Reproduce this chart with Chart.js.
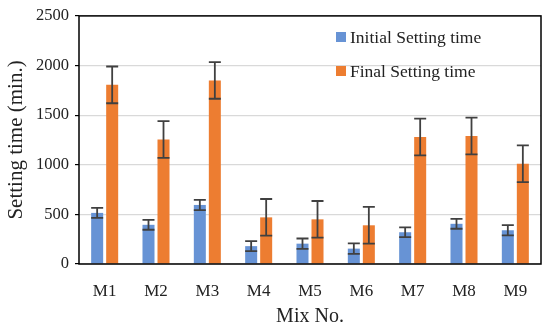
<!DOCTYPE html>
<html>
<head>
<meta charset="utf-8">
<script src="https://cdn.jsdelivr.net/npm/chart.js@4"></script>
<style>
  html, body { margin: 0; padding: 0; background: #fff; }
  #wrap { width: 550px; height: 329px; }
</style>
</head>
<body>
<div id="wrap"><canvas id="setChart" width="550" height="329"></canvas></div>
<script>
// mixes and measured setting times (min.)
const mixes = ['M1', 'M2', 'M3', 'M4', 'M5', 'M6', 'M7', 'M8', 'M9'];
const initialTime = [515, 395, 595, 180, 205, 155, 320, 405, 340];
const finalTime = [1805, 1255, 1850, 470, 450, 390, 1280, 1290, 1010];
const initialErr = [50, 50, 52, 50, 52, 52, 50, 50, 52];
const finalErr = [185, 185, 185, 185, 185, 185, 185, 185, 185];
const yTicks = [0, 500, 1000, 1500, 2000, 2500];

const FONT = 'Liberation Serif';

// error bars, drawn from the scales
const errorBars = {
  id: 'errorBars',
  afterDatasetsDraw(chart) {
    const ctx = chart.ctx;
    const y = chart.scales.y;
    const errs = [initialErr, finalErr];
    ctx.save();
    ctx.strokeStyle = '#404040';
    ctx.lineWidth = 1.8;
    chart.data.datasets.forEach((ds, i) => {
      chart.getDatasetMeta(i).data.forEach((bar, j) => {
        const v = ds.data[j], e = errs[i][j];
        const top = y.getPixelForValue(v + e);
        const bot = y.getPixelForValue(v - e);
        const half = bar.width / 2;
        ctx.beginPath();
        ctx.moveTo(bar.x, top); ctx.lineTo(bar.x, bot);
        ctx.moveTo(bar.x - half, top); ctx.lineTo(bar.x + half, top);
        ctx.moveTo(bar.x - half, bot); ctx.lineTo(bar.x + half, bot);
        ctx.stroke();
      });
    });
    ctx.restore();
  }
};

// black box round the plot + legend inside it
const frameAndLegend = {
  id: 'frameAndLegend',
  afterDraw(chart) {
    const { ctx, chartArea: a } = chart;
    ctx.save();
    ctx.strokeStyle = '#000';
    ctx.lineWidth = 1.5;
    ctx.strokeRect(a.left, a.top, a.right - a.left, a.bottom - a.top);

    ctx.font = '17.5px "' + FONT + '"';
    ctx.textBaseline = 'middle';
    chart.data.datasets.forEach((ds, i) => {
      const ly = 37 + i * 34;
      ctx.fillStyle = ds.backgroundColor;
      ctx.fillRect(336, ly - 5, 10, 10);
      ctx.fillStyle = '#222';
      ctx.fillText(ds.label, 350, ly + 1);
    });
    ctx.restore();
  }
};

new Chart(document.getElementById('setChart'), {
  type: 'bar',
  data: {
    labels: mixes,
    datasets: [
      { label: 'Initial Setting time', data: initialTime, backgroundColor: '#6793d5' },
      { label: 'Final Setting time', data: finalTime, backgroundColor: '#ed7d31' }
    ]
  },
  options: {
    responsive: false,
    animation: false,
    layout: { padding: { top: 11, right: 9 } },
    datasets: { bar: { categoryPercentage: 0.585, barPercentage: 0.8 } },
    plugins: { legend: { display: false }, tooltip: { enabled: false } },
    scales: {
      x: {
        grid: { display: false },
        border: { display: false },
        ticks: { color: '#222', font: { family: FONT, size: 17 }, padding: 9 },
        title: { display: true, text: 'Mix No.', color: '#222', font: { family: FONT, size: 20 }, padding: { top: 0, bottom: 0 } },
        afterFit(s) { s.height = 65; }
      },
      y: {
        min: 0, max: 2500,
        afterBuildTicks(s) { s.ticks = yTicks.map(v => ({ value: v })); },
        grid: { color: '#d9d9d9', lineWidth: 1.2, tickLength: 4, tickColor: '#000' },
        border: { display: false },
        ticks: { color: '#222', font: { family: FONT, size: 16.5 }, padding: 6, callback: v => String(v) },
        title: { display: true, text: 'Setting time (min.)', color: '#222', font: { family: FONT, size: 21 }, padding: { top: 4, bottom: 2 } },
        afterFit(s) { s.width = 79; }
      }
    }
  },
  plugins: [errorBars, frameAndLegend]
});
</script>
</body>
</html>
